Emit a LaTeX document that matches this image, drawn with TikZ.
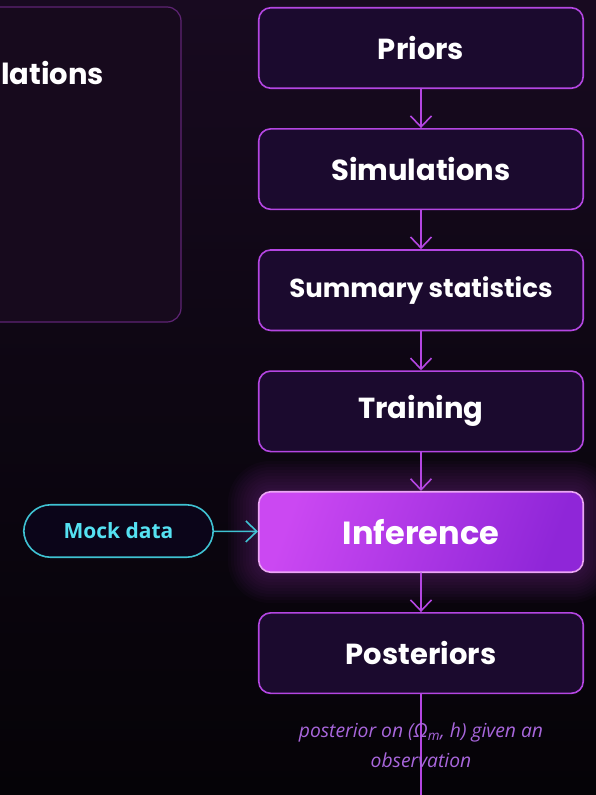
\documentclass[tikz,border=0pt]{standalone}
\usepackage{fontspec}
\setmainfont{Poppins}
\newfontfamily\mockfont{Open Sans}
\newfontfamily\notefont{Open Sans}
\usetikzlibrary{positioning, calc, arrows.meta}

\definecolor{bgtop}{HTML}{180A20}
\definecolor{bgmid}{HTML}{0D0612}
\definecolor{bgbot}{HTML}{050307}
\definecolor{stagefill}{HTML}{1B0A2E}
\definecolor{stageedge}{HTML}{B446E2}
\definecolor{hotleft}{HTML}{CB48F2}
\definecolor{hotright}{HTML}{8F26D8}
\definecolor{hotedge}{HTML}{EBA6F4}
\definecolor{panelfill}{HTML}{170A1D}
\definecolor{paneledge}{HTML}{5E2474}
\definecolor{mockfill}{HTML}{0B0519}
\definecolor{mockedge}{HTML}{3FC2D2}
\definecolor{mocktext}{HTML}{55E2F2}
\definecolor{notetext}{HTML}{A866DC}

\begin{document}
\begin{tikzpicture}[x=1pt, y=-1pt, line cap=round,
	stage/.style={draw=stageedge, line width=1.6pt, fill=stagefill, rounded corners=12pt,
		minimum width=324.5pt, minimum height=80.5pt, text=white, inner sep=0pt,
		font=\bfseries\fontsize{29}{32}\selectfont},
	hot/.style={stage, draw=hotedge, shading=axis, left color=hotleft, right color=hotright,
		shading angle=70, font=\bfseries\fontsize{32}{35}\selectfont},
	flow/.style={draw=stageedge, line width=1.6pt, -{Straight Barb[length=11pt,width=21pt]}},
	mock/.style={draw=mockedge, line width=1.6pt, fill=mockfill, rounded corners=27pt,
		minimum width=189.5pt, minimum height=52.5pt, text=mocktext, inner sep=0pt,
		font=\mockfont\bfseries\fontsize{21}{24}\selectfont},
	note/.style={text=notetext, align=center, inner sep=0pt,
		font=\notefont\itshape\fontsize{19.3}{30}\selectfont}
]

%Coordinates
\useasboundingbox (0,0) rectangle (596,795);
\coordinate (hub) at (421,532);
\coordinate (tail) at (421,795);

% Background
\fill[top color=bgtop, bottom color=bgbot, middle color=bgmid] (0,0) rectangle (596,795);

% Left panel
\draw[paneledge, fill=panelfill, line width=1.2pt, rounded corners=14pt] (-30,7) rectangle (181,322);
\node[anchor=east, inner sep=0pt, text=white, font=\bfseries\fontsize{29}{31}\selectfont] (paneltitle) at (104,73) {lations};

% glow behind inference
\foreach \g in {3,6,...,30}{
	\pgfmathsetmacro\rr{12+\g}
	\fill[hotleft, opacity=0.025, rounded corners=\rr pt] ($(hub)+(-163-\g,-41-\g)$) rectangle ($(hub)+(163+\g,41+\g)$);
}

% Nodes
\node[stage] (priors) at (421,48) {Priors};
\node[stage, below=39pt of priors] (sims) {Simulations};
\node[stage, below=39pt of sims, font=\bfseries\fontsize{26}{29}\selectfont] (stats) {Summary statistics};
\node[stage, below=39pt of stats] (train) {Training};
\node[hot] (infer) at (hub) {Inference};
\node[stage, below=39pt of infer] (post) {Posteriors};

\node[mock] (mock) at (118.5,531) {Mock data};

% Paths
\draw[flow] (priors) -- (sims);
\draw[flow] (sims) -- (stats);
\draw[flow] (stats) -- (train);
\draw[flow] (train) -- (infer);
\draw[flow] (infer) -- (post);
\draw[flow, draw=mockedge] (mock) -- (infer);
\draw[stageedge, line width=1.4pt] (post) -- (tail);

% Note
\node[note] (note) at (421,745) {posterior on (Ω\textsubscript{m}, h) given an\\observation};

\end{tikzpicture}
\end{document}
